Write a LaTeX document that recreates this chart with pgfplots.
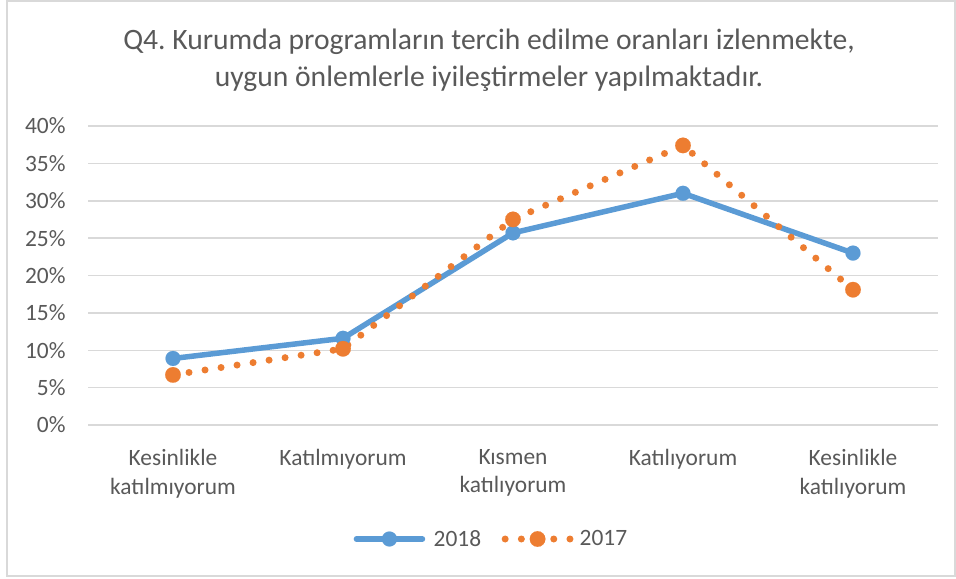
\documentclass[border=0pt]{standalone}
\usepackage{fontspec}
\setmainfont{Carlito}
\usepackage{pgfplots}
\pgfplotsset{compat=1.18}
\frenchspacing
\definecolor{c18}{HTML}{5B9BD5}
\definecolor{c17}{HTML}{ED7D31}
\definecolor{tgray}{HTML}{595959}
\definecolor{ggray}{HTML}{D9D9D9}
\pgfplotsset{
  leg18/.style={legend image code/.code={%
    \path (0bp,0bp) (77.5bp,0bp);
    \draw[##1, mark indices={2}] plot coordinates {(3bp,0bp) (36bp,0bp) (69bp,0bp)};
  }},
  leg17/.style={legend image code/.code={%
    \path (-17bp,0bp) (74.5bp,0bp);
    \draw[##1, mark indices={2}] plot coordinates {(3.5bp,0bp) (35.9bp,0bp) (68.4bp,0bp)};
  }},
}
\begin{document}
\begin{tikzpicture}
\useasboundingbox (-88bp,-154bp) rectangle (868bp,425bp);
\draw[ggray, line width=1.5bp] (-81bp,-151bp) rectangle (867bp,424bp);
\node[anchor=base, font=\fontsize{29.7}{36}\selectfont, text=tgray, inner sep=0pt] at (401bp,375bp) {Q4. Kurumda programların tercih edilme oranları izlenmekte,};
\node[anchor=base, font=\fontsize{29.7}{36}\selectfont, text=tgray, inner sep=0pt] at (401bp,338bp) {uygun önlemlerle iyileştirmeler yapılmaktadır.};
\begin{axis}[
  at={(0,0)}, anchor=south west,
  scale only axis, width=850bp, height=299bp,
  xmin=-0.5, xmax=4.5, ymin=0, ymax=40,
  axis line style={draw=none},
  major tick length=0pt, tick style={draw=none},
  ymajorgrids, grid style={ggray, line width=1.5bp},
  ytick={0,5,...,40},
  yticklabel={\pgfmathprintnumber{\tick}\%},
  /pgf/number format/assume math mode=true,
  yticklabel style={font=\fontsize{23.5}{28}\selectfont, text=tgray, anchor=east, inner sep=0pt, xshift=-22.3bp},
  xtick={0,1,2,3,4},
  xticklabels={{Kesinlikle\\katılmıyorum},{Katılmıyorum},{Kısmen\\katılıyorum},{Katılıyorum},{Kesinlikle\\katılıyorum}},
  xticklabel style={font=\fontsize{23.5}{28.3}\selectfont, text=tgray, align=center, anchor=north, inner sep=0pt, yshift=-24.5bp},
  clip=false,
  legend columns=2,
  legend style={at={(262.5bp,-114bp)}, anchor=west, draw=none, fill=none, inner sep=0pt, column sep=0pt,
    nodes={inner sep=0pt}, font=\fontsize{23.5}{28}\selectfont, text=tgray, cells={anchor=center}},
]
\addplot[c18, line width=5.5bp, line join=round, line cap=round, mark=*, mark size=7.5bp,
  mark options={solid, fill=c18, draw=c18, line width=0.1bp}, leg18]
  coordinates {(0,8.9) (1,11.6) (2,25.7) (3,31.0) (4,23.0)};
\addlegendentry{2018}
\addplot[c17, line width=7bp, line cap=round, dash pattern=on 0bp off 16.2bp, mark=*, mark size=7.8bp,
  mark options={solid, fill=c17, draw=c17, line width=0.1bp}, leg17]
  coordinates {(0,6.7) (1,10.2) (2,27.5) (3,37.4) (4,18.1)};
\addlegendentry{2017}
\end{axis}
\end{tikzpicture}
\end{document}
